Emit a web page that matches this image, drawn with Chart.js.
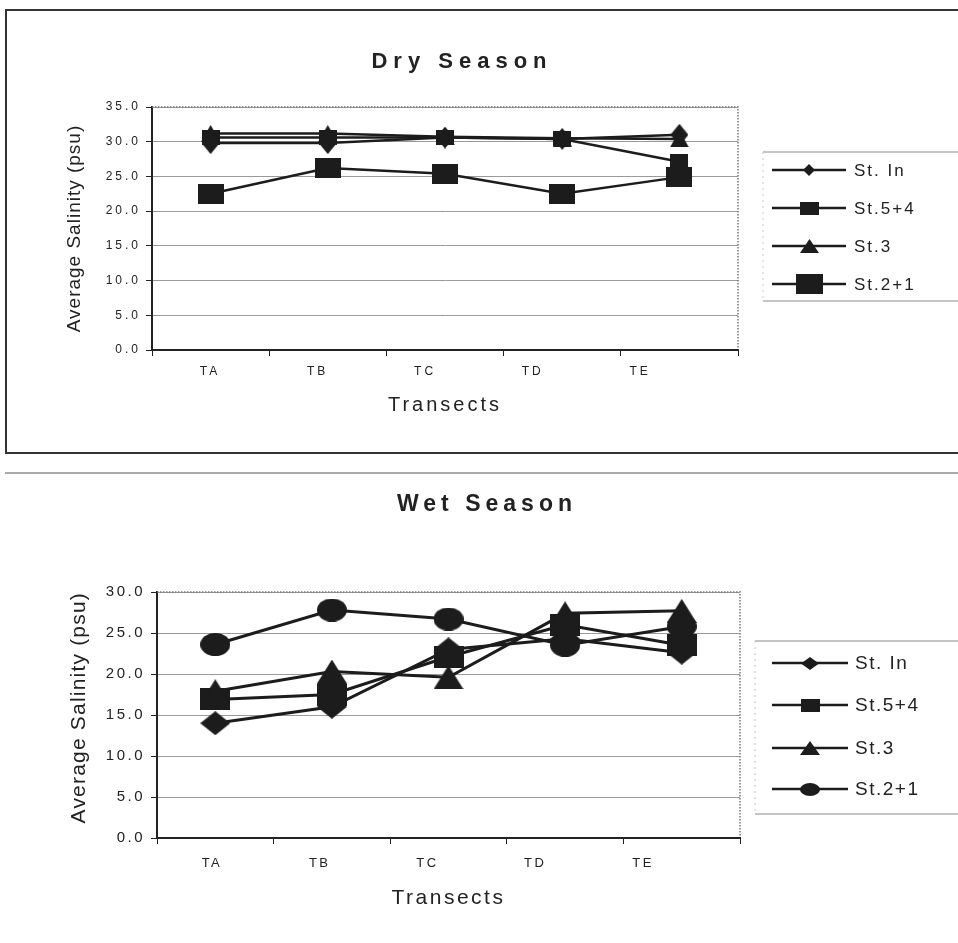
<!DOCTYPE html>
<html>
<head>
<meta charset="utf-8">
<script src="https://cdn.jsdelivr.net/npm/chart.js@4.4.1/dist/chart.umd.min.js"></script>
<style>
  html, body { margin: 0; padding: 0; background: #fff; overflow: hidden; width: 958px; height: 943px; }
  #dryBox { position: absolute; left: 5px; top: 9px; width: 990px; height: 441px; border: 2px solid #333; border-right: none; }
  #sep { position: absolute; left: 5px; top: 472px; width: 960px; border-top: 2px solid #aaa; }
  .wrap { position: absolute; left: 0; }
  canvas { display: block; }
</style>
</head>
<body>
<div id="dryBox"></div>
<div id="sep"></div>
<div class="wrap" style="top:0"><canvas id="dryChart" width="958" height="460"></canvas></div>
<div class="wrap" style="top:475px"><canvas id="wetChart" width="958" height="468"></canvas></div>
<script>
// Transects along the x axis
const transects = ['TA', 'TB', 'TC', 'TD', 'TE'];
const stations = ['St. In', 'St.5+4', 'St.3', 'St.2+1'];

// Dry season average salinity (psu)
const dryStIn = [29.8, 29.8, 30.6, 30.4, 31.0];
const drySt54 = [30.6, 30.6, 30.6, 30.4, 27.1];
const drySt3 = [31.2, 31.2, 30.7, 30.5, 30.4];
const drySt21 = [22.5, 26.2, 25.4, 22.5, 24.9];

// Wet season average salinity (psu)
const wetStIn = [14.0, 16.0, 23.0, 24.3, 22.6];
const wetSt54 = [16.9, 17.5, 22.1, 26.0, 23.5];
const wetSt3 = [17.9, 20.3, 19.6, 27.4, 27.7];
const wetSt21 = [23.6, 27.8, 26.7, 23.5, 25.8];

// axis ranges
const dryMax = 35;
const wetMax = 30;
const yStep = 5;

const FONT = "'Liberation Sans', Arial, sans-serif";
const INK = '#1c1c1c';

// marker images (the scanned markers are a bit wider than tall)
function marker(shape, w, h) {
    const c = document.createElement('canvas');
    c.width = w;
    c.height = h;
    const g = c.getContext('2d');
    g.fillStyle = INK;
    g.beginPath();
    if (shape === 'diamond') {
        g.moveTo(w / 2, 0); g.lineTo(w, h / 2); g.lineTo(w / 2, h); g.lineTo(0, h / 2);
    } else if (shape === 'triangle') {
        g.moveTo(w / 2, 0); g.lineTo(w, h); g.lineTo(0, h);
    } else if (shape === 'circle') {
        g.ellipse(w / 2, h / 2, w / 2, h / 2, 0, 0, Math.PI * 2);
    } else {
        g.rect(0, 0, w, h);
    }
    g.closePath();
    g.fill();
    return c;
}

// draws titles, legend and dotted plot frame, and sets letter spacing per layer
function decor(cfg) {
    return {
        id: 'decor',
        beforeDraw(chart) {
            chart.ctx.letterSpacing = cfg.yTitleSpacing;
        },
        beforeDatasetsDraw(chart) {
            const { ctx, chartArea: a } = chart;
            ctx.save();
            ctx.strokeStyle = '#777';
            ctx.lineWidth = 1.5;
            ctx.setLineDash([1.5, 1.5]);
            ctx.beginPath();
            ctx.moveTo(a.left, a.top);
            ctx.lineTo(a.right, a.top);
            ctx.lineTo(a.right, a.bottom);
            ctx.stroke();
            ctx.restore();
        },
        afterDatasetsDraw(chart) {
            chart.ctx.letterSpacing = cfg.tickSpacing;
        },
        afterDraw(chart) {
            const ctx = chart.ctx;
            ctx.save();
            ctx.fillStyle = '#222';
            ctx.textAlign = 'center';
            ctx.textBaseline = 'middle';
            ctx.letterSpacing = cfg.titleSpacing;
            ctx.font = cfg.titleFont;
            ctx.fillText(cfg.title, cfg.titleX, cfg.titleY);

            // legend frame
            const lg = cfg.legend;
            ctx.strokeStyle = '#8a8a8a';
            ctx.lineWidth = 1.2;
            ctx.beginPath();
            ctx.moveTo(lg.left, lg.top); ctx.lineTo(chart.width, lg.top);
            ctx.moveTo(lg.left, lg.bottom); ctx.lineTo(chart.width, lg.bottom);
            ctx.stroke();
            ctx.strokeStyle = '#cfcfcf';
            ctx.setLineDash([2, 4]);
            ctx.beginPath();
            ctx.moveTo(lg.left, lg.top); ctx.lineTo(lg.left, lg.bottom);
            ctx.stroke();
            ctx.setLineDash([]);

            ctx.textAlign = 'left';
            ctx.font = lg.font;
            ctx.letterSpacing = lg.spacing;
            chart.data.datasets.forEach((ds, i) => {
                const y = lg.rows[i];
                ctx.strokeStyle = INK;
                ctx.lineWidth = 2.5;
                ctx.beginPath();
                ctx.moveTo(lg.lineFrom, y);
                ctx.lineTo(lg.lineTo, y);
                ctx.stroke();
                const m = lg.markers[i];
                ctx.drawImage(m, Math.round(lg.markX - m.width / 2), Math.round(y - m.height / 2));
                ctx.fillStyle = '#222';
                ctx.fillText(ds.label, lg.textX, y + 1);
            });
            ctx.restore();
            ctx.letterSpacing = '0px';
        }
    };
}

function makeDatasets(values, points, lineWidth) {
    return stations.map((name, i) => ({
        label: name,
        data: values[i],
        borderColor: INK,
        backgroundColor: INK,
        borderWidth: lineWidth,
        pointStyle: points[i],
        pointRadius: 10,
        pointHoverRadius: 10,
        tension: 0,
        fill: false,
        clip: false,
        order: 4 - i
    }));
}

function makeOptions(o) {
    return {
        responsive: false,
        animation: false,
        devicePixelRatio: 1,
        events: [],
        layout: { padding: { top: o.top, right: o.right, left: 0, bottom: 0 } },
        plugins: { legend: { display: false }, tooltip: { enabled: false }, title: { display: false } },
        scales: {
            // category axis carrying the data and the tick marks between transects
            x: {
                type: 'category',
                offset: true,
                weight: 0,
                grid: { drawOnChartArea: false, drawTicks: true, tickLength: 6, tickColor: '#222', offset: true, z: 1 },
                border: { display: true, color: '#222', width: 2, z: 1 },
                ticks: { display: false },
                title: { display: false },
                afterFit(s) { s.height = 6; }
            },
            // label row: the scanned transect names sit a little left of their markers
            xLabels: {
                type: 'linear',
                position: 'bottom',
                axis: 'x',
                weight: 1,
                min: o.labelMin,
                max: o.labelMax,
                grid: { display: false, drawTicks: false, z: 1 },
                border: { display: false },
                ticks: {
                    stepSize: 1, includeBounds: false, autoSkip: false, maxRotation: 0,
                    callback: v => Number.isInteger(v) ? transects[v] : '',
                    font: { family: FONT, size: o.xTickSize }, color: '#222', padding: o.xTickPad, z: 1
                },
                title: { display: true, text: 'Transects', color: '#222', font: { family: FONT, size: o.xTitleSize }, padding: { top: 0, bottom: o.xTitlePad } },
                afterFit(s) { s.height = o.xHeight - 6; }
            },
            y: {
                min: 0,
                max: o.max,
                ticks: { stepSize: yStep, callback: v => v.toFixed(1), font: { family: FONT, size: o.yTickSize }, color: '#222', padding: o.yTickPad, z: 1 },
                grid: { color: '#9a9a9a', lineWidth: 1, tickLength: 6, tickColor: '#222' },
                border: { display: true, color: '#222', width: 2 },
                title: { display: true, text: 'Average Salinity (psu)', align: o.yTitleAlign, color: '#222', font: { family: FONT, size: o.yTitleSize }, padding: { top: o.yTitlePad, bottom: 0 } },
                afterFit(s) { s.width = o.yWidth; }
            }
        }
    };
}

// Dry season
const dryPoints = [marker('diamond', 18, 22), marker('square', 18, 15), marker('triangle', 19, 17), marker('square', 26, 20)];
new Chart(document.getElementById('dryChart').getContext('2d'), {
    type: 'line',
    data: { labels: transects, datasets: makeDatasets([dryStIn, drySt54, drySt3, drySt21], dryPoints, 2.5) },
    options: makeOptions({
        top: 107, right: 220, max: dryMax,
        labelMin: -0.54, labelMax: 4.91,
        xTickSize: 12, xTickPad: 8, xTitleSize: 20, xTitlePad: 43, xHeight: 110,
        yTickSize: 12, yTickPad: 5, yTitleSize: 19, yTitlePad: 63, yWidth: 152, yTitleAlign: 'center'
    }),
    plugins: [decor({
        title: 'Dry Season', titleFont: 'bold 22px ' + FONT, titleSpacing: '6px', titleX: 462, titleY: 62,
        yTitleSpacing: '1px', tickSpacing: '3px',
        legend: {
            left: 763, top: 152, bottom: 301, rows: [170, 208, 246, 284],
            lineFrom: 772, lineTo: 846, markX: 809, textX: 854,
            font: '17px ' + FONT, spacing: '2px',
            markers: [marker('diamond', 12, 12), marker('square', 19, 13), marker('triangle', 19, 14), marker('square', 27, 20)]
        }
    })]
});

// Wet season
const wetPoints = [marker('diamond', 30, 24), marker('square', 30, 22), marker('triangle', 30, 24), marker('circle', 30, 23)];
new Chart(document.getElementById('wetChart').getContext('2d'), {
    type: 'line',
    data: { labels: transects, datasets: makeDatasets([wetStIn, wetSt54, wetSt3, wetSt21], wetPoints, 3) },
    options: makeOptions({
        top: 117, right: 218, max: wetMax,
        labelMin: -0.51, labelMax: 4.90,
        xTickSize: 13, xTickPad: 12, xTitleSize: 21, xTitlePad: 32, xHeight: 105,
        yTickSize: 15, yTickPad: 6, yTitleSize: 21, yTitlePad: 67, yWidth: 157, yTitleAlign: 'end'
    }),
    plugins: [decor({
        title: 'Wet Season', titleFont: 'bold 23px ' + FONT, titleSpacing: '5px', titleX: 487, titleY: 30,
        yTitleSpacing: '1.2px', tickSpacing: '2.5px',
        legend: {
            left: 755, top: 166, bottom: 339, rows: [188, 230, 273, 314],
            lineFrom: 772, lineTo: 848, markX: 810, textX: 855,
            font: '19px ' + FONT, spacing: '1.5px',
            markers: [marker('diamond', 18, 13), marker('square', 19, 13), marker('triangle', 20, 14), marker('circle', 20, 13)]
        }
    })]
});
</script>
</body>
</html>
